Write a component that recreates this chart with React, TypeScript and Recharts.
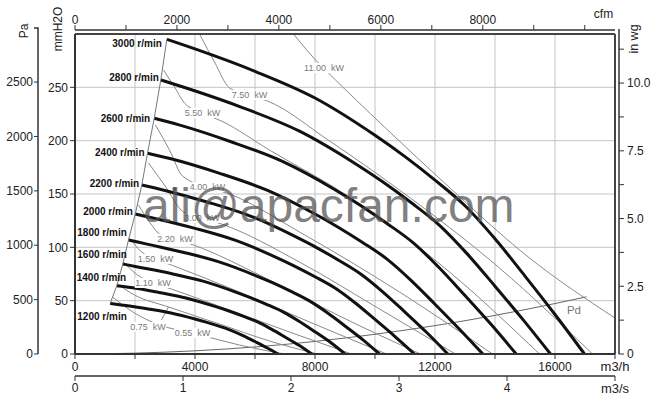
import React from "react";
import {
  ComposedChart,
  Line,
  Scatter,
  XAxis,
  YAxis,
  CartesianGrid,
  ReferenceLine,
  ReferenceDot,
} from "recharts";

// fan curves, [m3/h, mmH2O]
const rpm1200 = [[1173, 47.5], [1600, 45.8], [2400, 42.4], [3200, 38.4], [4000, 32.8], [4400, 29.6], [4800, 26.1], [5200, 22.2], [5600, 17.3], [6000, 11.7], [6400, 5.9], [6770, 0]];
const rpm1400 = [[1393, 64], [1867, 62.3], [2800, 57.7], [3733, 52.3], [4667, 44.6], [5133, 40.3], [5600, 35.5], [6067, 30.3], [6533, 23.5], [7000, 15.9], [7467, 8.1], [7890, 0]];
const rpm1600 = [[1593, 84.4], [2133, 81.4], [3200, 75.4], [4267, 68.3], [5333, 58.3], [5867, 52.6], [6400, 46.4], [6933, 39.5], [7467, 30.7], [8000, 20.8], [8533, 10.5], [9000, 0]];
const rpm1800 = [[1783, 106.9], [2400, 103], [3600, 95.4], [4800, 86.4], [6000, 73.8], [6600, 66.6], [7200, 58.7], [7800, 50], [8400, 38.9], [9000, 26.3], [9600, 13.3], [10150, 0]];
const rpm2000 = [[2007, 131.2], [2667, 127.1], [4000, 117.8], [5333, 106.7], [6667, 91.1], [7333, 82.2], [8000, 72.4], [8667, 61.8], [9333, 48], [10000, 32.4], [10667, 16.4], [11317, 0]];
const rpm2200 = [[2227, 158.4], [2933, 153.8], [4400, 142.5], [5867, 129.1], [7333, 110.2], [8067, 99.5], [8800, 87.7], [9533, 74.8], [10267, 58.1], [11000, 39.3], [11733, 19.9], [12427, 0]];
const rpm2400 = [[2417, 188.2], [3200, 183], [4800, 169.6], [6400, 153.6], [8000, 131.2], [8800, 118.4], [9600, 104.3], [10400, 89], [11200, 69.1], [12000, 46.7], [12800, 23.7], [13593, 0]];
const rpm2600 = [[2640, 221], [3467, 214.8], [5200, 199], [6933, 180.3], [8667, 154], [9533, 139], [10400, 122.4], [11267, 104.4], [12133, 81.1], [13000, 54.8], [13867, 27.8], [14707, 0]];
const rpm2800 = [[2860, 256.9], [3733, 249.1], [5600, 230.8], [7467, 209.1], [9333, 178.6], [10267, 161.2], [11200, 142], [12133, 121.1], [13067, 94.1], [14000, 63.6], [14933, 32.2], [15850, 0]];
const rpm3000 = [[3060, 295], [4000, 286], [6000, 265], [8000, 240], [10000, 205], [11000, 185], [12000, 163], [13000, 139], [14000, 108], [15000, 73], [16000, 37], [16983, 0]];

const speeds = [1200, 1400, 1600, 1800, 2000, 2200, 2400, 2600, 2800, 3000];
const fanCurves = [rpm1200, rpm1400, rpm1600, rpm1800, rpm2000, rpm2200, rpm2400, rpm2600, rpm2800, rpm3000];

// absorbed power lines
const kw055 = [[1250, 53.4], [1983, 38.4], [2817, 27.2], [3917, 19.7], [5483, 8.4], [6983, 0]];
const kw075 = [[1417, 65.6], [1983, 55.3], [3117, 44.1], [4817, 28.1], [6483, 12.2], [8083, 0]];
const kw110 = [[1617, 86.2], [2083, 74.1], [2617, 66.6], [3217, 60.9], [5150, 41.2], [7150, 20.6], [9217, 0]];
const kw150 = [[1850, 107.8], [2183, 96.6], [2683, 89.1], [3217, 83.4], [5483, 58.1], [7817, 30], [10383, 0]];
const kw220 = [[2117, 139.7], [2483, 123.7], [2817, 112.5], [3350, 107.8], [3950, 102.2], [6283, 72.2], [8817, 35.6], [11517, 0]];
const kw300 = [[2450, 179.1], [2983, 158.4], [3617, 133.1], [4250, 127.5], [4883, 121.9], [7483, 86.2], [10150, 42.2], [12683, 0]];
const kw400 = [[2683, 214.7], [3150, 191.2], [3583, 166.9], [4417, 156.6], [5150, 150], [7483, 114.4], [10817, 58.1], [13917, 0]];
const kw550 = [[2950, 266.2], [3317, 250.3], [3650, 235.3], [4250, 225.9], [4883, 218.4], [6483, 191.2], [9150, 147.2], [12483, 76.9], [15483, 0]];
const kw750 = [[4150, 300], [4650, 273.7], [5150, 249.4], [5817, 242.8], [6417, 237.2], [8483, 199.7], [10817, 153.7], [14150, 80.6], [17250, 0]];
const kw1100 = [[7283, 300], [8050, 274.7], [8450, 263.4], [10317, 212.8], [12283, 161.2], [15150, 90], [18000, 33.7]];

const kwLevels = ["0.55", "0.75", "1.10", "1.50", "2.20", "3.00", "4.00", "5.50", "7.50", "11.00"];
const kwCurves = [kw055, kw075, kw110, kw150, kw220, kw300, kw400, kw550, kw750, kw1100];
const kwLabelAt = [[3917, 19.7], [2433, 25.3], [2600, 66.6], [2683, 89.1], [3333, 107.8], [4233, 127.5], [4417, 156.6], [4250, 225.9], [5817, 242.8], [8300, 268.1]];

const leader075 = [[2883, 31.9], [3117, 44.1]];
const markDot = [3317, 154.7];

// dynamic pressure
const pdCurve = [[0, 0], [2000, 0.8], [4000, 3], [6000, 6.6], [8000, 11.8], [10000, 18.5], [12000, 26.6], [14000, 36.2], [16000, 47.3], [17050, 53.6]];

const flowTicks = [0, 2000, 4000, 6000, 8000, 10000, 12000, 14000, 16000, 18000];
const cfmTicks = [0, 1000, 2000, 3000, 4000, 5000, 6000, 7000, 8000, 9000, 10000];
const m3sTicks = [0, 1, 2, 3, 4, 5];
const mmTicks = [0, 50, 100, 150, 200, 250];
const paTicks = [0, 500, 1000, 1500, 2000, 2500];
const wgTicks = [0, 1.25, 2.5, 3.75, 5, 6.25, 7.5, 8.75, 10, 11.25];

// where each speed label sits relative to the curve start (px)
const speedLabelShift = [[16.6, 12.7], [9.4, -8.7], [4, -9], [-1.7, -7], [-2.4, -3], [-2.6, -2], [-3, -1], [-4, 0], [-2, -2], [-5, 4]];

const pts = (a: number[][]) => a.map(([q, p]) => ({ q, p }));

const FONT = "Arial, 'Liberation Sans', sans-serif";
const AX = "#333";
const tickStyle = { fontSize: 12, fill: "#222", fontFamily: FONT };
const axisThick = { stroke: AX, strokeWidth: 2 };
const axisThin = { stroke: AX, strokeWidth: 1.5 };
const tickLn = { stroke: AX };

const fmtFlow = (v: number) => (v % 4000 === 0 && v < 18000 ? String(v) : "");
const fmtM3s = (v: number) => (v < 5 ? String(v) : "");
const fmtCfm = (v: number) => (v % 2000 === 0 && v <= 8000 ? String(v) : "");
const fmtWg = (v: number) => (v % 2.5 === 0 ? (v === 0 ? "0" : v.toFixed(1)) : "");

const speedTags = speeds.map((s, i) => ({
  q: fanCurves[i][0][0],
  p: fanCurves[i][0][1],
  text: `${s} r/min`,
  dx: speedLabelShift[i][0],
  dy: speedLabelShift[i][1],
}));
const boundary = pts(fanCurves.map((c) => c[0]));
const kwTags = kwLevels.map((k, i) => ({ q: kwLabelAt[i][0], p: kwLabelAt[i][1], text: `${k}  kW` }));

const SpeedTag = (props: any) => {
  const { cx, cy, payload } = props;
  return (
    <text x={cx + payload.dx} y={cy + payload.dy} textAnchor="end" dominantBaseline="central"
      fontSize={10} fontWeight="bold" fill="#111" fontFamily={FONT}>
      {payload.text}
    </text>
  );
};

const KwTag = (props: any) => {
  const { cx, cy, payload } = props;
  const w = payload.text.length * 4.3 + 2;
  return (
    <g>
      <rect x={cx - w / 2} y={cy - 5} width={w} height={10} fill="#fff" />
      <text x={cx} y={cy} textAnchor="middle" dominantBaseline="central" fontSize={9}
        fill="#7a7a7a" fontFamily={FONT} style={{ whiteSpace: "pre" }}>
        {payload.text}
      </text>
    </g>
  );
};

// axis ids sort alphabetically: the first of each side sits next to the plot
export default function App() {
  return (
    <div style={{ position: "absolute", left: 0, top: 0, width: 659, height: 411, background: "#fff" }}>
      <ComposedChart width={659} height={411} margin={{ top: 0, right: 0, bottom: 0, left: 0 }}>
        <XAxis xAxisId="b1" dataKey="q" type="number" domain={[0, 18000]} allowDataOverflow
          ticks={flowTicks} interval={0} orientation="bottom" height={22} tickSize={5} tickMargin={3}
          tickFormatter={fmtFlow} axisLine={axisThick} tickLine={tickLn} tick={tickStyle} />
        <XAxis xAxisId="b2" dataKey="q" type="number" domain={[0, 5]} allowDataOverflow ticks={m3sTicks}
          interval={0} orientation="bottom" height={35} tickSize={5} tickMargin={2}
          tickFormatter={fmtM3s} axisLine={axisThin} tickLine={tickLn} tick={tickStyle} />
        <XAxis xAxisId="t1" dataKey="q" type="number" domain={[0, 1]} orientation="top" height={4}
          tick={false} axisLine={false} tickLine={false} />
        <XAxis xAxisId="t2" dataKey="q" type="number" domain={[0, 10594]} allowDataOverflow ticks={cfmTicks}
          interval={0} orientation="top" height={30} tickSize={5} tickMargin={1}
          tickFormatter={fmtCfm} axisLine={axisThin} tickLine={tickLn} tick={tickStyle} />
        <YAxis yAxisId="l1" type="number" domain={[0, 300]} allowDataOverflow ticks={mmTicks}
          interval={0} width={37} tickSize={5} tickMargin={2}
          axisLine={axisThick} tickLine={tickLn} tick={tickStyle} />
        <YAxis yAxisId="l2" type="number" domain={[0, 2942]} allowDataOverflow ticks={paTicks}
          interval={0} width={38} tickSize={4} tickMargin={1}
          axisLine={axisThin} tickLine={tickLn} tick={tickStyle} />
        <YAxis yAxisId="r1" type="number" domain={[0, 1]} orientation="right" width={4}
          tick={false} axisLine={false} tickLine={false} />
        <YAxis yAxisId="r2" type="number" domain={[0, 11.811]} allowDataOverflow ticks={wgTicks}
          interval={0} orientation="right" width={40} tickSize={5} tickMargin={3}
          tickFormatter={fmtWg} axisLine={axisThin} tickLine={tickLn} tick={tickStyle} />

        <CartesianGrid xAxisId="b1" yAxisId="l1" stroke="#c4c4c4" />

        <Line xAxisId="b1" yAxisId="l1" data={pts(pdCurve)} dataKey="p" type="monotone"
          stroke="#666" strokeWidth={1} dot={false} activeDot={false} isAnimationActive={false} />
        {kwCurves.map((c, i) => (
          <Line key={kwLevels[i]} xAxisId="b1" yAxisId="l1" data={pts(c)} dataKey="p" type="monotone"
            stroke="#8a8a8a" strokeWidth={1} dot={false} activeDot={false} isAnimationActive={false} />
        ))}
        <Line xAxisId="b1" yAxisId="l1" data={pts(leader075)} dataKey="p" type="linear"
          stroke="#8a8a8a" strokeWidth={1} dot={false} activeDot={false} isAnimationActive={false} />
        <Scatter xAxisId="b1" yAxisId="l1" data={kwTags} dataKey="p" shape={KwTag} isAnimationActive={false} />
        <ReferenceDot xAxisId="b1" yAxisId="l1" x={markDot[0]} y={markDot[1]} r={2} fill="#666" stroke="none" />

        {fanCurves.map((c, i) => (
          <Line key={speeds[i]} xAxisId="b1" yAxisId="l1" data={pts(c)} dataKey="p" type="monotone"
            stroke="#111" strokeWidth={3} dot={false} activeDot={false} isAnimationActive={false} />
        ))}
        <Line xAxisId="b1" yAxisId="l1" data={boundary} dataKey="p" type="linear"
          stroke="#777" strokeWidth={1} dot={false} activeDot={false} isAnimationActive={false} />
        <Scatter xAxisId="b1" yAxisId="l1" data={speedTags} dataKey="p" shape={SpeedTag} isAnimationActive={false} />

        <ReferenceLine xAxisId="b1" yAxisId="l1" y={300} stroke="#444" strokeWidth={2} />
        <ReferenceLine xAxisId="b1" yAxisId="l1" x={18000} stroke="#444" strokeWidth={2} />
      </ComposedChart>

      <svg width={659} height={411} style={{ position: "absolute", left: 0, top: 0, pointerEvents: "none" }}
        fontFamily={FONT}>
        {/* outer scales run a little above the plot frame */}
        <path d="M38 34V28H34M619 34V29" stroke={AX} strokeWidth={1.5} fill="none" />
        <text x={23.5} y={31} fontSize={12} fill="#222" textAnchor="middle" dominantBaseline="central"
          transform="rotate(-90 23.5 31)">Pa</text>
        <text x={58} y={29} fontSize={12} fill="#222" textAnchor="middle" dominantBaseline="central"
          transform="rotate(-90 58 29)">mmH2O</text>
        <text x={634} y={39} fontSize={12.5} fill="#222" textAnchor="middle" dominantBaseline="central"
          transform="rotate(-90 634 39)">in wg</text>
        <text x={603.5} y={14} fontSize={12} fill="#222" textAnchor="middle" dominantBaseline="central">cfm</text>
        <text x={615} y={366} fontSize={13} fill="#222" textAnchor="middle" dominantBaseline="central">m3/h</text>
        <text x={615} y={388} fontSize={13} fill="#222" textAnchor="middle" dominantBaseline="central">m3/s</text>
        <text x={574} y={310} fontSize={11.5} fill="#777" textAnchor="middle" dominantBaseline="central">Pd</text>
        <text x={143} y={222} fontSize={48} fill="rgba(80,80,80,0.72)">ali@apacfan.com</text>
      </svg>
    </div>
  );
}
